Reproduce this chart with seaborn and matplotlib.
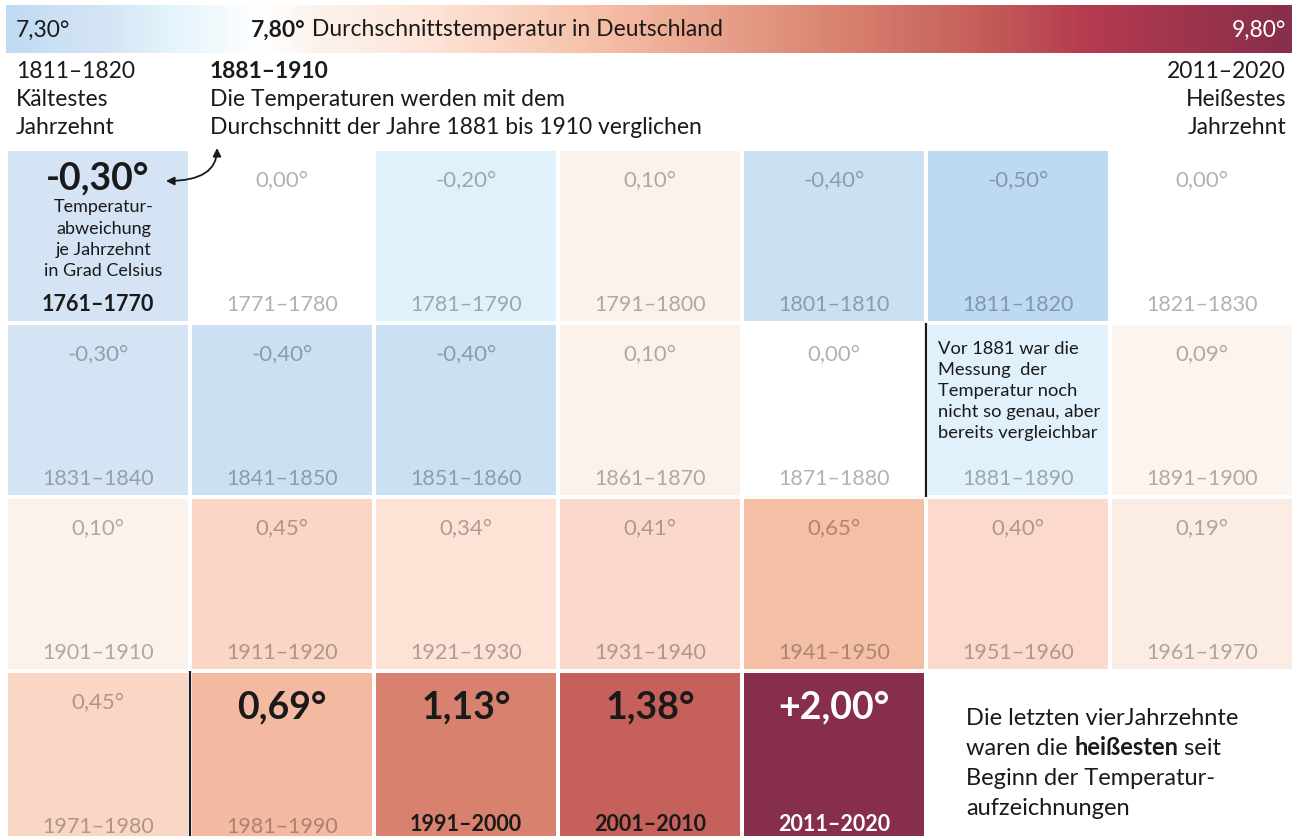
import numpy as np
import matplotlib
matplotlib.use("Agg")
import matplotlib.pyplot as plt
import seaborn as sns
from matplotlib.colors import LinearSegmentedColormap, Normalize
from matplotlib.cm import ScalarMappable

# %% data
decade_starts = list(range(1761, 2021, 10))
anomalies = [
    -0.30, 0.00, -0.20, 0.10, -0.40, -0.50, 0.00,
    -0.30, -0.40, -0.40, 0.10, 0.00, -0.20, 0.09,
    0.10, 0.45, 0.34, 0.41, 0.65, 0.40, 0.19,
    0.45, 0.69, 1.13, 1.38, 2.00,
]
hide_value = [1881]  # cell carries a note instead of its number
base_temp = 7.80
vmin, vmax = -0.50, 2.00

# colour anchors (anomaly, colour)
anchors = [
    (-0.50, "#BDDAF2"), (-0.40, "#CCE0F4"), (-0.30, "#D4E4F4"),
    (-0.20, "#E1F2FB"), (0.00, "#FFFFFF"), (0.10, "#FCF2EC"),
    (0.19, "#FCEDE4"), (0.34, "#FDE2D5"), (0.41, "#FBD9CA"),
    (0.45, "#FAD6C5"), (0.65, "#F5BFA6"), (0.69, "#F4BAA1"),
    (1.13, "#D8816F"), (1.38, "#C5605A"), (1.60, "#B53B4F"),
    (2.00, "#862E4A"),
]
cmap = LinearSegmentedColormap.from_list(
    "dwd", [((a - vmin) / (vmax - vmin), c) for a, c in anchors]
)

n_cols = 7
grid = np.full(28, np.nan)
grid[: len(anomalies)] = anomalies
grid = grid.reshape(4, n_cols)

W, H = 1292, 837
sns.set_theme(style="white")
plt.rcParams["font.family"] = ["Lato", "DejaVu Sans"]
dark = "#1A1A1A"
fs_head = 16.5

fig = plt.figure(figsize=(W / 100, H / 100), dpi=100)


def fx(x):
    return x / W


def fy(y):
    return 1 - y / H


# %% heat grid
ax = fig.add_axes([fx(6), fy(846), 1288 / W, 696 / H])
sns.heatmap(
    grid,
    mask=np.isnan(grid),
    cmap=cmap,
    vmin=vmin,
    vmax=vmax,
    cbar=False,
    linewidths=1.5,
    linecolor="white",
    xticklabels=False,
    yticklabels=False,
    ax=ax,
)

big = {1761: dark, 1981: dark, 1991: dark, 2001: dark, 2011: "white"}
bold_decade = {1761: dark, 1991: dark, 2001: dark, 2011: "white"}

for k, (start, val) in enumerate(zip(decade_starts, anomalies)):
    r, c = divmod(k, n_cols)
    cx = c + 0.5
    lab = f"{val:.2f}".replace(".", ",") + "°"
    if start == decade_starts[-1]:
        lab = "+" + lab
    if start not in hide_value:
        if start in big:
            ax.text(cx, r + (0.165 if r == 0 else 0.205), lab, ha="center",
                    va="center", fontsize=27, fontweight="bold", color=big[start])
        else:
            ax.text(cx, r + 0.18, lab, ha="center", va="center",
                    fontsize=16, color="black", alpha=0.3)
    dec = f"{start}–{start + 9}"
    if start in bold_decade:
        ax.text(cx, r + (0.89 if r == 0 else 0.875), dec, ha="center",
                va="center", fontsize=15.5, fontweight="bold",
                color=bold_decade[start])
    else:
        ax.text(cx, r + 0.89, dec, ha="center", va="center",
                fontsize=15.5, color="black", alpha=0.3)

# separators for 1881 (measurement note) and 1981 (last four decades)
for start in (1881, 1981):
    r, c = divmod(decade_starts.index(start), n_cols)
    ax.plot([c, c], [r, r + 1], color=dark, lw=1.6, solid_capstyle="butt")

# explanation inside the first cell
for i, line in enumerate(["Temperatur-", "abweichung", "je Jahrzehnt", "in Grad Celsius"]):
    ax.text(0.53, 0.33 + i * 0.122, line, ha="center", va="center",
            fontsize=13, color=dark)

for i, line in enumerate(["Vor 1881 war die", "Messung  der", "Temperatur noch",
                          "nicht so genau, aber", "bereits vergleichbar"]):
    ax.text(5.065, 1.145 + i * 0.121, line, ha="left", va="center",
            fontsize=13.2, color=dark)

# note in the empty last cell
notes = ["Die letzten vierJahrzehnte", None, "Beginn der Temperatur-", "aufzeichnungen"]
for i, line in enumerate(notes):
    y = 3.265 + i * 0.174
    if line is not None:
        ax.text(5.22, y, line, ha="left", va="center", fontsize=17, color=dark)
    else:
        t1 = ax.text(5.22, y, "waren die ", ha="left", va="center",
                     fontsize=17, color=dark)
        t2 = ax.annotate("heißesten", xy=(1, 0), xycoords=t1, va="bottom",
                         fontsize=17, fontweight="bold", color=dark)
        ax.annotate(" seit", xy=(1, 0), xycoords=t2, va="bottom",
                    fontsize=17, color=dark)

# %% header gradient bar
cax = fig.add_axes([fx(6), fy(54), 1286 / W, 48 / H])
cb = fig.colorbar(
    ScalarMappable(Normalize(base_temp + vmin, base_temp + vmax), cmap),
    cax=cax, orientation="horizontal",
)
cb.outline.set_visible(False)
cax.set_xticks([])
cax.set_yticks([])

fig.text(fx(16), fy(30), f"{base_temp + vmin:.2f}".replace(".", ",") + "°",
         va="center", fontsize=fs_head, color=dark)
t = fig.text(fx(251), fy(30), f"{base_temp:.2f}".replace(".", ",") + "°",
             va="center", fontsize=fs_head, fontweight="bold", color=dark)
fig.add_artist(plt.Annotation(" Durchschnittstemperatur in Deutschland",
                              xy=(1, 0), xycoords=t, va="bottom",
                              fontsize=fs_head, color=dark))
fig.text(fx(1286), fy(30), f"{base_temp + vmax:.2f}".replace(".", ",") + "°",
         ha="right", va="center", fontsize=fs_head, color="white")

# header notes
for i, line in enumerate(["1811–1820", "Kältestes", "Jahrzehnt"]):
    fig.text(fx(16), fy(71 + i * 28.5), line, va="center", fontsize=fs_head, color=dark)
for i, line in enumerate(["2011–2020", "Heißestes", "Jahrzehnt"]):
    fig.text(fx(1286), fy(71 + i * 28.5), line, ha="right", va="center",
             fontsize=fs_head, color=dark)
fig.text(fx(210), fy(71), "1881–1910", va="center", fontsize=fs_head,
         fontweight="bold", color=dark)
for i, line in enumerate(["Die Temperaturen werden mit dem",
                          "Durchschnitt der Jahre 1881 bis 1910 verglichen"]):
    fig.text(fx(210), fy(99.5 + i * 28.5), line, va="center", fontsize=fs_head, color=dark)

# curved double arrow linking the reference period with the first cell
fig.add_artist(plt.Annotation(
    "", xy=(217, H - 149), xycoords="figure pixels",
    xytext=(166, H - 182), textcoords="figure pixels",
    arrowprops=dict(arrowstyle="<|-|>", color=dark, lw=1.3,
                    mutation_scale=12,
                    connectionstyle="angle3,angleA=0,angleB=90",
                    shrinkA=0, shrinkB=0),
))

fig.savefig("out.png", dpi=100)
